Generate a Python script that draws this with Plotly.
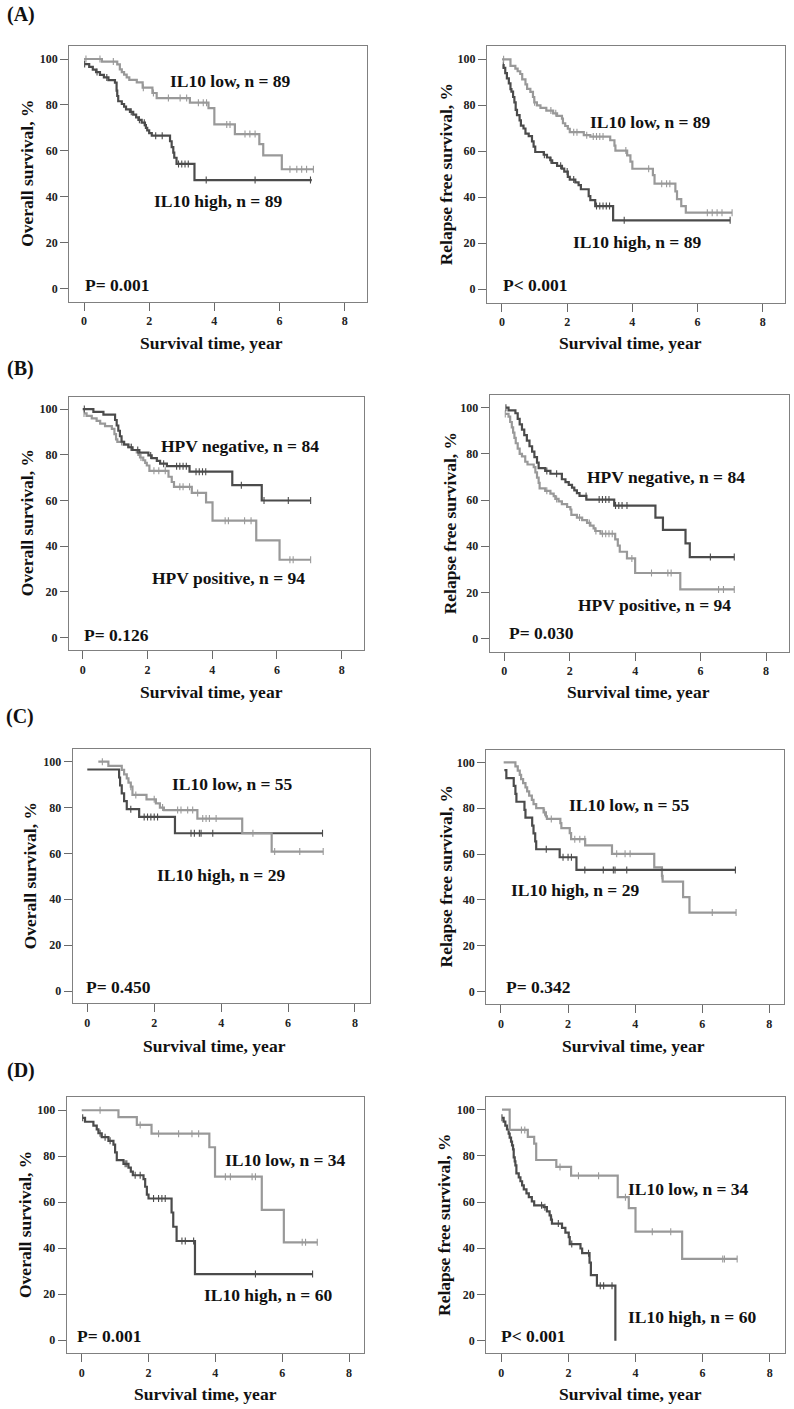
import numpy as np
import plotly.graph_objects as go

W, H = 794, 1409
LIGHT = "#999999"
DARK = "#4b4b4b"
FONT = "Liberation Serif, Times New Roman, serif"

# ---------------- data (time in years, survival %) ----------------
# (A) all patients, IL10 low / high
A_os_low_t = [0, 0.55, 1.02, 1.1, 1.16, 1.23, 1.31, 1.39, 1.62, 1.8, 2.1, 2.23, 3.25, 3.82, 4.0, 4.63, 5.38, 5.5, 6.07, 7.04]
A_os_low_s = [100, 98.9, 97.7, 95.5, 94.3, 93.2, 92.0, 90.9, 89.8, 87.5, 85.2, 83.0, 81.0, 78.6, 71.5, 67.3, 62.9, 58.0, 52.0, 52.0]
A_os_low_c = [0.06, 0.49, 0.9, 1.82, 2.13, 2.59, 2.95, 3.15, 3.51, 3.66, 3.76, 4.38, 4.48, 4.94, 5.09, 5.25, 6.32, 6.53, 6.68, 6.83, 7.04]
A_os_high_t = [0.02, 0.16, 0.27, 0.37, 0.49, 0.61, 0.75, 0.95, 1.0, 1.02, 1.05, 1.16, 1.23, 1.29, 1.41, 1.51, 1.6, 1.67, 1.77, 1.87, 1.9, 1.94, 2.0, 2.08, 2.64, 2.69, 2.74, 2.77, 2.84, 3.39, 6.99]
A_os_high_s = [97.8, 96.6, 95.4, 94.3, 93.1, 92.0, 90.8, 89.7, 86.2, 83.9, 81.6, 80.4, 79.3, 78.1, 77.0, 75.8, 74.6, 73.5, 72.3, 71.2, 70.0, 68.9, 67.7, 66.6, 64.2, 61.6, 59.2, 57.0, 54.3, 47.3, 47.3]
A_os_high_c = [0.02, 0.4, 0.7, 1.45, 1.7, 1.85, 2.2, 2.4, 2.9, 3.0, 3.1, 3.2, 3.75, 5.25, 6.95]

A_rfs_low_t = [0, 0.26, 0.41, 0.48, 0.56, 0.62, 0.72, 0.77, 0.87, 0.95, 0.99, 1.07, 1.18, 1.36, 1.57, 1.69, 1.84, 1.87, 1.94, 2.02, 2.08, 2.51, 2.71, 3.32, 3.45, 3.48, 3.84, 3.94, 4.0, 4.63, 4.68, 5.32, 5.37, 5.5, 5.64, 7.06]
A_rfs_low_s = [100, 97.1, 95.9, 94.8, 93.6, 91.3, 89.1, 87.1, 85.8, 83.6, 81.3, 80.0, 78.9, 77.7, 76.5, 75.4, 74.2, 72.2, 71.0, 69.8, 68.3, 67.0, 66.4, 64.8, 62.5, 60.3, 58.2, 55.5, 52.4, 49.6, 45.9, 42.6, 39.2, 36.2, 33.3, 33.3]
A_rfs_low_c = [0.05, 1.0, 1.5, 1.65, 2.2, 2.3, 2.6, 2.8, 2.9, 3.0, 3.1, 3.8, 4.5, 4.9, 5.05, 5.15, 6.3, 6.45, 6.6, 6.75, 7.06]
A_rfs_high_t = [0.02, 0.05, 0.1, 0.15, 0.21, 0.26, 0.29, 0.34, 0.38, 0.42, 0.46, 0.54, 0.58, 0.66, 0.72, 0.82, 0.92, 0.97, 1.02, 1.28, 1.38, 1.48, 1.54, 1.69, 1.84, 1.91, 2.02, 2.08, 2.25, 2.35, 2.42, 2.66, 2.71, 2.86, 3.41, 7.0]
A_rfs_high_s = [97.5, 96.3, 94.0, 91.7, 89.5, 87.0, 85.9, 83.6, 81.3, 78.0, 75.7, 73.4, 71.2, 69.9, 67.7, 66.6, 64.3, 62.0, 59.7, 58.5, 57.3, 56.1, 54.9, 53.7, 52.5, 51.2, 48.9, 47.7, 46.5, 45.3, 43.5, 40.5, 38.8, 36.2, 30.0, 30.0]
A_rfs_high_c = [0.04, 1.3, 1.5, 1.8, 2.0, 2.2, 2.9, 3.0, 3.1, 3.2, 3.3, 3.75, 7.0]

# (B) HPV negative / positive
B_os_neg_t = [0, 0.33, 0.64, 1.0, 1.05, 1.1, 1.15, 1.2, 1.28, 1.41, 1.54, 1.75, 2.03, 2.13, 2.29, 2.39, 2.6, 3.3, 4.62, 5.53, 7.04]
B_os_neg_s = [100, 98.8, 97.6, 95.2, 92.8, 90.5, 88.1, 85.7, 84.5, 83.3, 82.1, 80.9, 79.7, 78.5, 77.3, 76.1, 75.0, 72.6, 66.7, 60.0, 60.0]
B_os_neg_c = [0.05, 1.5, 1.7, 2.1, 2.5, 2.9, 3.0, 3.1, 3.2, 3.5, 3.6, 3.7, 3.8, 4.9, 5.6, 6.35, 7.04]
B_os_pos_t = [0.04, 0.12, 0.28, 0.43, 0.54, 0.69, 0.9, 0.98, 1.03, 1.07, 1.26, 1.41, 1.51, 1.67, 1.72, 1.77, 1.87, 1.93, 1.98, 2.06, 2.65, 2.75, 2.82, 3.37, 3.81, 4.01, 5.36, 6.08, 7.04]
B_os_pos_s = [98.1, 97.0, 95.9, 94.8, 93.6, 92.5, 91.3, 89.0, 86.7, 85.6, 84.4, 83.3, 82.1, 81.0, 79.9, 78.8, 77.6, 76.5, 75.3, 73.0, 70.4, 68.1, 66.0, 63.3, 59.2, 51.2, 42.6, 34.1, 34.1]
B_os_pos_c = [0.04, 1.2, 1.5, 1.8, 2.2, 2.35, 2.55, 3.0, 3.1, 3.3, 3.55, 4.4, 4.5, 5.0, 5.2, 6.4, 6.5, 7.04]

B_rfs_neg_t = [0.05, 0.13, 0.34, 0.41, 0.47, 0.54, 0.61, 0.69, 0.77, 0.85, 0.92, 1.0, 1.05, 1.25, 1.41, 1.76, 1.87, 1.97, 2.07, 2.14, 2.22, 2.3, 2.51, 3.36, 4.62, 4.85, 5.54, 5.67, 7.03]
B_rfs_neg_s = [100, 98.8, 97.6, 95.2, 92.8, 90.5, 88.1, 85.7, 83.3, 81.0, 78.6, 76.2, 73.8, 72.6, 71.4, 69.0, 67.8, 66.6, 65.4, 64.2, 63.0, 61.8, 60.2, 57.6, 52.4, 47.1, 41.2, 35.3, 35.3]
B_rfs_neg_c = [0.05, 1.3, 1.6, 2.5, 2.9, 3.0, 3.1, 3.2, 3.4, 3.5, 3.6, 3.75, 6.3, 7.03]
B_rfs_pos_t = [0.03, 0.13, 0.18, 0.23, 0.27, 0.31, 0.35, 0.41, 0.47, 0.54, 0.64, 0.71, 0.9, 0.95, 1.0, 1.05, 1.08, 1.25, 1.41, 1.51, 1.56, 1.66, 1.76, 1.92, 2.02, 2.05, 2.22, 2.38, 2.53, 2.63, 2.73, 2.78, 2.94, 3.39, 3.47, 3.53, 3.75, 4.0, 5.38, 7.03]
B_rfs_pos_s = [97.3, 96.1, 93.8, 91.5, 89.2, 86.9, 84.6, 82.3, 80.0, 78.9, 76.6, 75.4, 74.3, 72.0, 69.7, 67.4, 65.1, 64.0, 62.8, 61.7, 60.5, 59.4, 58.2, 57.0, 55.9, 53.6, 52.4, 51.3, 50.1, 48.9, 47.7, 46.6, 45.4, 43.0, 40.3, 37.6, 34.7, 28.4, 21.3, 21.3]
B_rfs_pos_c = [0.03, 1.3, 1.6, 2.3, 2.6, 2.8, 3.0, 3.1, 3.2, 3.3, 3.9, 4.5, 5.0, 5.1, 6.55, 6.7, 7.03]

# (C) IL10 low / high, subgroup 1
C_os_low_t = [0.33, 0.63, 1.03, 1.1, 1.18, 1.23, 1.3, 1.35, 1.77, 2.05, 2.17, 2.29, 3.29, 4.63, 5.51, 7.05]
C_os_low_s = [100, 98.2, 96.4, 94.5, 92.7, 90.9, 89.1, 85.5, 83.6, 81.8, 80.0, 78.9, 75.2, 68.8, 60.8, 60.8]
C_os_low_c = [0.45, 1.3, 1.45, 2.0, 2.25, 2.7, 2.8, 3.0, 3.15, 3.45, 3.55, 3.65, 3.85, 4.95, 5.6, 6.35, 7.05]
C_os_high_t = [0, 0.95, 0.98, 1.03, 1.1, 1.18, 1.55, 2.62, 7.03]
C_os_high_s = [96.6, 93.1, 89.7, 86.2, 82.8, 79.3, 75.9, 68.8, 68.8]
C_os_high_c = [1.3, 1.7, 1.8, 1.9, 2.0, 2.1, 3.1, 3.2, 3.35, 3.4, 3.75, 7.03]

C_rfs_low_t = [0.08, 0.43, 0.5, 0.56, 0.6, 0.66, 0.73, 0.78, 0.84, 0.92, 0.97, 1.05, 1.27, 1.34, 1.37, 1.77, 1.8, 2.05, 2.09, 2.51, 3.31, 4.57, 4.8, 4.82, 5.43, 5.62, 7.01]
C_rfs_low_s = [100, 98.2, 96.4, 94.5, 92.7, 90.9, 89.1, 87.3, 85.5, 83.6, 81.8, 80.0, 78.2, 76.4, 75.3, 73.5, 71.3, 69.1, 66.5, 63.8, 60.1, 54.2, 50.5, 48.0, 41.2, 34.5, 34.5]
C_rfs_low_c = [1.3, 1.5, 2.2, 2.35, 2.5, 3.45, 3.7, 3.85, 4.8, 6.3, 7.01]
C_rfs_high_t = [0.1, 0.16, 0.38, 0.43, 0.46, 0.7, 0.73, 0.93, 0.97, 1.02, 1.05, 1.75, 2.25, 6.99]
C_rfs_high_s = [96.6, 93.1, 89.7, 86.2, 82.8, 79.3, 75.9, 72.4, 69.0, 65.5, 62.1, 58.6, 53.1, 53.1]
C_rfs_high_c = [1.35, 1.85, 2.0, 2.1, 2.5, 3.05, 3.35, 3.4, 3.75, 6.99]

# (D) IL10 low / high, subgroup 2
D_os_low_t = [0, 1.1, 1.65, 2.09, 3.82, 3.99, 5.39, 6.05, 7.05]
D_os_low_s = [100, 97.0, 93.6, 89.8, 83.9, 71.1, 56.6, 42.5, 42.5]
D_os_low_c = [0.55, 1.75, 2.3, 2.9, 3.3, 3.5, 4.3, 4.45, 5.1, 5.2, 6.6, 6.7, 7.05]
D_os_high_t = [0.03, 0.1, 0.35, 0.45, 0.5, 0.6, 0.8, 0.95, 1.0, 1.05, 1.25, 1.4, 1.47, 1.53, 1.85, 1.9, 1.95, 2.0, 2.69, 2.74, 2.84, 3.39, 6.91]
D_os_high_s = [96.7, 95.0, 93.3, 91.7, 90.0, 88.3, 86.7, 85.0, 81.7, 78.3, 76.7, 75.0, 73.3, 71.7, 70.0, 66.7, 63.3, 61.6, 55.5, 49.3, 43.1, 28.7, 28.7]
D_os_high_c = [0.03, 0.55, 0.7, 0.85, 1.3, 1.35, 1.6, 1.75, 2.15, 2.3, 2.4, 2.5, 3.0, 3.1, 3.35, 5.2, 6.91]

D_rfs_low_t = [0.02, 0.25, 0.79, 0.98, 1.04, 1.64, 2.08, 3.47, 3.8, 4.0, 5.39, 7.03]
D_rfs_low_s = [100, 91.2, 88.2, 85.3, 78.2, 75.2, 71.4, 62.1, 57.4, 47.2, 35.4, 35.4]
D_rfs_low_c = [0.6, 0.7, 1.75, 2.3, 2.9, 3.7, 4.5, 5.05, 6.6, 6.65, 7.03]
D_rfs_high_t = [0.02, 0.07, 0.12, 0.17, 0.22, 0.25, 0.29, 0.32, 0.35, 0.37, 0.4, 0.42, 0.45, 0.52, 0.57, 0.62, 0.67, 0.75, 0.82, 0.91, 0.98, 1.26, 1.36, 1.44, 1.48, 1.51, 1.81, 1.91, 2.01, 2.04, 2.36, 2.41, 2.63, 2.67, 2.85, 3.4]
D_rfs_high_s = [96.5, 94.8, 93.1, 91.4, 89.6, 87.9, 86.2, 84.5, 82.8, 79.3, 77.6, 75.9, 72.4, 70.7, 69.0, 67.2, 65.5, 63.8, 62.1, 60.3, 58.6, 57.8, 56.0, 54.2, 52.4, 50.7, 48.8, 46.8, 44.8, 41.8, 39.9, 37.9, 33.8, 28.4, 23.8, 0.0]
D_rfs_high_c = [0.02, 1.2, 1.3, 1.5, 1.7, 2.1, 2.6, 2.95, 3.05, 3.3]

x_ticks = [0, 2, 4, 6, 8]
y_ticks = [0, 20, 40, 60, 80, 100]
panel_letters = ["(A)", "(B)", "(C)", "(D)"]
os_title = "Overall survival, %"
rfs_title = "Relapse free survival, %"
x_title = "Survival time, year"

# ---------------- panel layout (pixel geometry) ----------------
panels = [
    dict(box=(69.3, 367, 46, 301.7), xr=[-0.451, 8.684], yr=[-5.66, 105.66],
         curves=[(A_os_high_t, A_os_high_s, A_os_high_c, DARK), (A_os_low_t, A_os_low_s, A_os_low_c, LIGHT)],
         texts=[("IL10 low, n = 89", 230, 80.7, "center"), ("IL10 high, n = 89", 218, 201, "center"), ("P= 0.001", 83, 285, "left")],
         ytitle=(os_title, 27), xtitle=(212, 343)),
    dict(box=(487, 784.7, 46, 302.7), xr=[-0.460, 8.674], yr=[-5.83, 105.78],
         curves=[(A_rfs_high_t, A_rfs_high_s, A_rfs_high_c, DARK), (A_rfs_low_t, A_rfs_low_s, A_rfs_low_c, LIGHT)],
         texts=[("IL10 low, n = 89", 650, 121.7, "center"), ("IL10 high, n = 89", 637, 242, "center"), ("P< 0.001", 501, 285, "left")],
         ytitle=(rfs_title, 446), xtitle=(630, 343)),
    dict(box=(69, 364, 396.7, 650), xr=[-0.423, 8.688], yr=[-5.38, 105.4],
         curves=[(B_os_pos_t, B_os_pos_s, B_os_pos_c, LIGHT), (B_os_neg_t, B_os_neg_s, B_os_neg_c, DARK)],
         texts=[("HPV negative, n = 84", 240, 446, "center"), ("HPV positive, n = 94", 228, 578, "center"), ("P= 0.126", 82, 635, "left")],
         ytitle=(os_title, 27), xtitle=(212, 692)),
    dict(box=(489.7, 788.7, 395, 651.7), xr=[-0.446, 8.694], yr=[-5.68, 105.5],
         curves=[(B_rfs_pos_t, B_rfs_pos_s, B_rfs_pos_c, LIGHT), (B_rfs_neg_t, B_rfs_neg_s, B_rfs_neg_c, DARK)],
         texts=[("HPV negative, n = 84", 666, 476.7, "center"), ("HPV positive, n = 94", 654, 605, "center"), ("P= 0.030", 507, 633, "left")],
         ytitle=(rfs_title, 450), xtitle=(638, 692)),
    dict(box=(72.7, 370, 749.3, 1003.3), xr=[-0.436, 8.449], yr=[-5.36, 105.4],
         curves=[(C_os_high_t, C_os_high_s, C_os_high_c, DARK), (C_os_low_t, C_os_low_s, C_os_low_c, LIGHT)],
         texts=[("IL10 low, n = 55", 233, 784.3, "center"), ("IL10 high, n = 29", 221, 875, "center"), ("P= 0.450", 84, 986.7, "left")],
         ytitle=(os_title, 30), xtitle=(214.5, 1046)),
    dict(box=(486.3, 783.7, 750, 1004), xr=[-0.438, 8.43], yr=[-5.36, 105.36],
         curves=[(C_rfs_low_t, C_rfs_low_s, C_rfs_low_c, LIGHT), (C_rfs_high_t, C_rfs_high_s, C_rfs_high_c, DARK)],
         texts=[("IL10 low, n = 55", 629, 805, "center"), ("IL10 high, n = 29", 575, 890, "center"), ("P= 0.342", 503.7, 986.7, "left")],
         ytitle=(rfs_title, 445.5), xtitle=(633, 1046)),
    dict(box=(66.7, 364, 1096.7, 1353.3), xr=[-0.449, 8.449], yr=[-5.79, 105.9],
         curves=[(D_os_high_t, D_os_high_s, D_os_high_c, DARK), (D_os_low_t, D_os_low_s, D_os_low_c, LIGHT)],
         texts=[("IL10 low, n = 34", 285, 1160, "center"), ("IL10 high, n = 60", 268, 1295, "center"), ("P= 0.001", 75, 1336, "left")],
         ytitle=(os_title, 25), xtitle=(205.5, 1394)),
    dict(box=(486.3, 784.7, 1096.7, 1353.3), xr=[-0.447, 8.447], yr=[-5.45, 105.6],
         curves=[(D_rfs_high_t, D_rfs_high_s, D_rfs_high_c, DARK), (D_rfs_low_t, D_rfs_low_s, D_rfs_low_c, LIGHT)],
         texts=[("IL10 low, n = 34", 688, 1189.3, "center"), ("IL10 high, n = 60", 692, 1316.7, "center"), ("P< 0.001", 498.7, 1336, "left")],
         ytitle=(rfs_title, 444), xtitle=(630, 1394)),
]
letter_pos = [(5, 14.5), (5, 368), (4, 717), (5, 1070)]

TXT = 17.5


def px(x):
    return x / W


def py(y):
    return 1 - y / H


def step_at(t, s, x):
    i = int(np.searchsorted(np.asarray(t), x, side="right")) - 1
    return s[max(i, 0)]


fig = go.Figure()
layout = dict(width=W, height=H, margin=dict(l=0, r=0, t=0, b=0),
              paper_bgcolor="white", plot_bgcolor="white", showlegend=False)
annotations = []
axis_common = dict(showline=True, mirror=True, linecolor="#808080", linewidth=1.3,
                   ticks="outside", ticklen=8, tickwidth=1.3, tickcolor="#6a6a6a",
                   showgrid=False, zeroline=False, fixedrange=True,
                   tickfont=dict(family=FONT, size=12, color="#222222", weight="bold"))

for i, p in enumerate(panels, start=1):
    L, R, T, B = p["box"]
    xa = "x" if i == 1 else f"x{i}"
    ya = "y" if i == 1 else f"y{i}"
    layout["xaxis" if i == 1 else f"xaxis{i}"] = dict(
        axis_common, domain=[px(L), px(R)], range=p["xr"], tickvals=x_ticks, anchor=ya)
    layout["yaxis" if i == 1 else f"yaxis{i}"] = dict(
        axis_common, domain=[py(B), py(T)], range=p["yr"], tickvals=y_ticks, anchor=xa)
    for t, s, c, col in p["curves"]:
        fig.add_trace(go.Scatter(x=t, y=s, mode="lines", line=dict(color=col, width=2.2, shape="hv"),
                                 xaxis=xa, yaxis=ya, hoverinfo="skip"))
        fig.add_trace(go.Scatter(x=c, y=[step_at(t, s, v) for v in c], mode="markers",
                                 marker=dict(symbol="line-ns", size=5, line=dict(color=col, width=1.1)),
                                 xaxis=xa, yaxis=ya, hoverinfo="skip"))
    for txt, x, y, anc in p["texts"]:
        annotations.append(dict(text=f"<b>{txt}</b>", x=px(x), y=py(y), xref="paper", yref="paper",
                                xanchor=anc, yanchor="middle", showarrow=False,
                                font=dict(family=FONT, size=TXT, color="#111111")))
    ytxt, yx = p["ytitle"]
    annotations.append(dict(text=f"<b>{ytxt}</b>", x=px(yx), y=py((T + B) / 2), xref="paper", yref="paper",
                            xanchor="center", yanchor="middle", textangle=-90, showarrow=False,
                            font=dict(family=FONT, size=TXT, color="#111111")))
    tx, ty = p["xtitle"]
    annotations.append(dict(text=f"<b>{x_title}</b>", x=px(tx), y=py(ty), xref="paper", yref="paper",
                            xanchor="center", yanchor="middle", showarrow=False,
                            font=dict(family=FONT, size=TXT, color="#111111")))

for lab, (x, y) in zip(panel_letters, letter_pos):
    annotations.append(dict(text=f"<b>{lab}</b>", x=px(x), y=py(y), xref="paper", yref="paper",
                            xanchor="left", yanchor="middle", showarrow=False,
                            font=dict(family=FONT, size=20, color="#111111")))

layout["annotations"] = annotations
fig.update_layout(**layout)
fig.write_html("out.html", config={"displayModeBar": False},
               post_script="document.body.style.margin='0px';document.body.style.overflow='hidden';")
